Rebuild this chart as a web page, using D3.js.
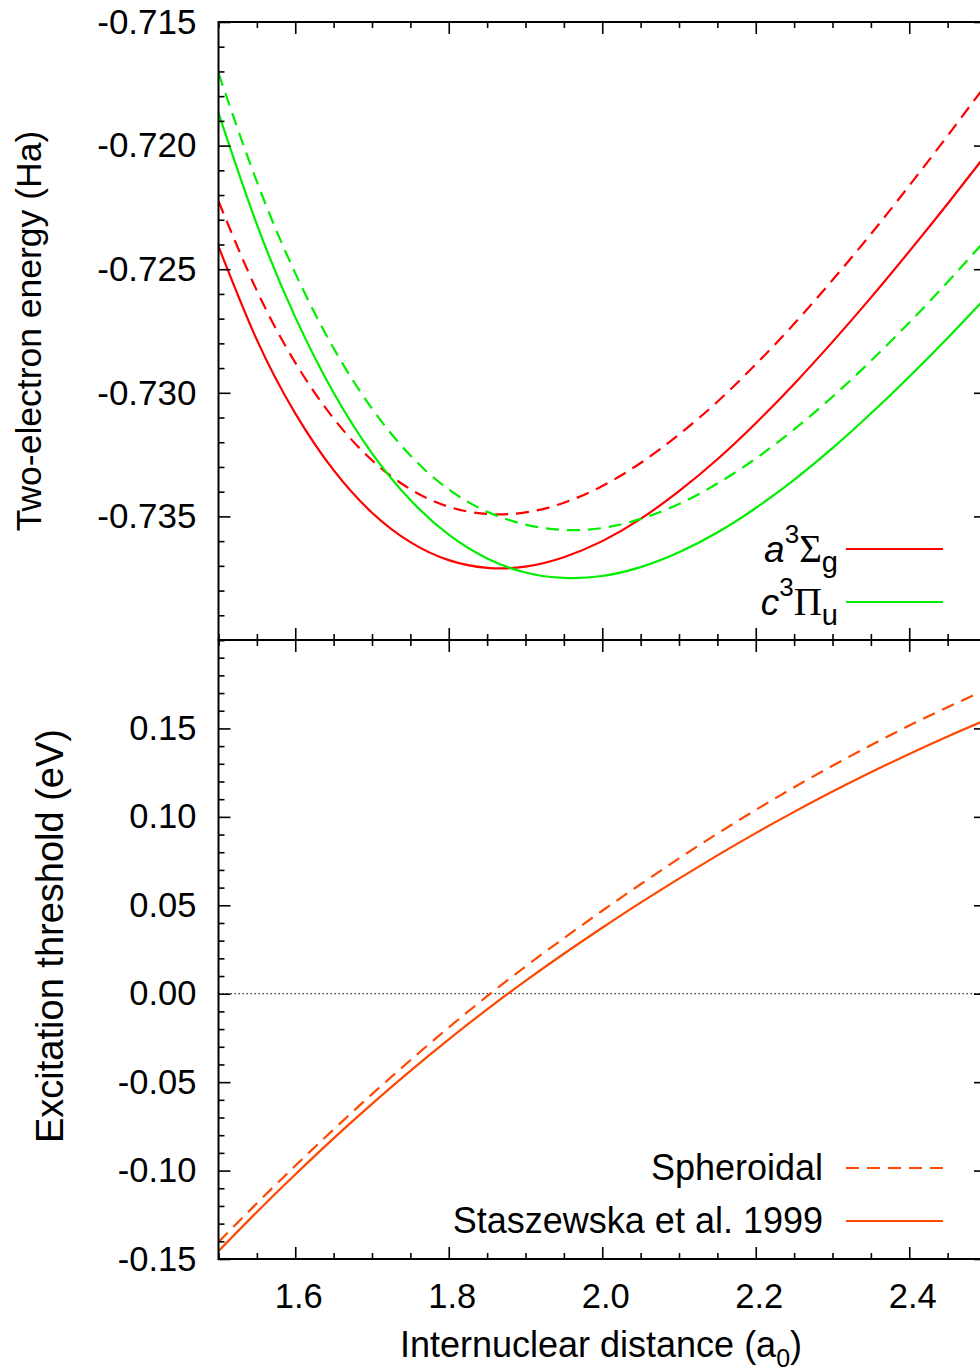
<!DOCTYPE html>
<html><head><meta charset="utf-8">
<script src="https://cdn.jsdelivr.net/npm/d3@7"></script>
<style>
body{margin:0;background:#fff}
svg{display:block}
text{font-family:"Liberation Sans",Arial,Helvetica,sans-serif;fill:#000}
</style>
</head><body>
<svg id="chart" width="980" height="1371"></svg>
<script>
// ---------------- data ----------------
const distance = [1.50,1.55,1.60,1.65,1.70,1.75,1.80,1.85,1.90,1.95,2.00,2.05,2.10,2.15,2.20,2.25,2.30,2.35,2.40,2.45,2.50];
// a3Σg : solid and dashed
const aSigmaSolid  = [-0.72408,-0.72786,-0.73083,-0.73313,-0.73485,-0.73604,-0.73677,-0.73708,-0.73703,-0.73665,-0.73600,-0.73510,-0.73398,-0.73269,-0.73123,-0.72964,-0.72794,-0.72615,-0.72428,-0.72235,-0.72037];
const aSigmaDashed = [-0.72225,-0.72587,-0.72878,-0.73104,-0.73273,-0.73390,-0.73461,-0.73490,-0.73484,-0.73445,-0.73377,-0.73284,-0.73169,-0.73036,-0.72885,-0.72721,-0.72544,-0.72358,-0.72162,-0.71960,-0.71753];
// c3Πu : solid and dashed
const cPiSolid  = [-0.71868,-0.72319,-0.72694,-0.73000,-0.73245,-0.73434,-0.73574,-0.73670,-0.73727,-0.73749,-0.73741,-0.73705,-0.73645,-0.73565,-0.73466,-0.73352,-0.73224,-0.73084,-0.72935,-0.72778,-0.72614];
const cPiDashed = [-0.71707,-0.72146,-0.72516,-0.72820,-0.73064,-0.73254,-0.73391,-0.73481,-0.73533,-0.73555,-0.73547,-0.73510,-0.73450,-0.73367,-0.73266,-0.73148,-0.73016,-0.72871,-0.72716,-0.72552,-0.72380];
// excitation threshold (eV)
const spheroidal = [-0.1404,-0.1185,-0.0973,-0.0767,-0.0568,-0.0376,-0.0191,-0.0014,0.0154,0.0314,0.0469,0.0619,0.0765,0.0905,0.1039,0.1167,0.1289,0.1405,0.1516,0.1620,0.1719];
const staszewska = [-0.1455,-0.1234,-0.1022,-0.0818,-0.0623,-0.0436,-0.0258,-0.0088,0.0073,0.0226,0.0373,0.0515,0.0651,0.0782,0.0908,0.1028,0.1143,0.1252,0.1356,0.1455,0.1548];

const xMajorTicks = [1.6,1.8,2.0,2.2,2.4];
const energyTicks = [-0.715,-0.720,-0.725,-0.730,-0.735];
const thresholdTicks = [0.15,0.10,0.05,0.00,-0.05,-0.10,-0.15];

// --------------- layout ---------------
const svg = d3.select("#chart");
const L = 218.5, R = 986, T1 = 22, B1 = 640, T2 = 640, B2 = 1259;
const red = "#ff0000", green = "#00ee00", orange = "#ff4800";

const x = d3.scaleLinear().domain([1.5, 2.5]).range([L, R]);
const yTop = d3.scaleLinear().domain([-0.740, -0.715]).range([B1, T1]);
const yBot = d3.scaleLinear().domain([-0.15, 0.20]).range([B2, T2]);

const xMinor = d3.range(1.5, 2.5001, 0.05).map(v => +v.toFixed(2)).filter(v => !xMajorTicks.some(t => Math.abs(t - v) < 1e-6));
const eAll = d3.range(-0.740, -0.7149, 0.001).map(v => +v.toFixed(3));
const eMinor = eAll.filter(v => !energyTicks.some(t => Math.abs(t - v) < 1e-7));
const tAll = d3.range(-0.15, 0.2001, 0.01).map(v => +v.toFixed(2));
const tMinor = tAll.filter(v => !thresholdTicks.some(t => Math.abs(t - v) < 1e-7));

function styleAxis(fs){
  return g => {
    g.select(".domain").remove();
    g.selectAll(".tick line").attr("stroke", "#000").attr("stroke-width", 1.6);
    g.selectAll(".tick text").style("font-size", fs + "px").attr("fill", "#000");
  };
}

function panelAxes(yScale, top, bottom, majorY, minorY, yFmt, showX, fs){
  const st = styleAxis(fs);
  svg.append("g").attr("transform", `translate(${L},0)`)
    .call(d3.axisLeft(yScale).tickValues(majorY).tickSize(-12).tickPadding(22).tickFormat(yFmt)).call(st);
  svg.append("g").attr("transform", `translate(${L},0)`)
    .call(d3.axisLeft(yScale).tickValues(minorY).tickSize(-6).tickFormat("")).call(st);
  svg.append("g").attr("transform", `translate(${R},0)`)
    .call(d3.axisRight(yScale).tickValues(majorY).tickSize(-12).tickFormat("")).call(st);
  svg.append("g").attr("transform", `translate(${R},0)`)
    .call(d3.axisRight(yScale).tickValues(minorY).tickSize(-6).tickFormat("")).call(st);
  svg.append("g").attr("transform", `translate(0,${top})`)
    .call(d3.axisTop(x).tickValues(xMajorTicks).tickSize(-12).tickFormat("")).call(st);
  svg.append("g").attr("transform", `translate(0,${top})`)
    .call(d3.axisTop(x).tickValues(xMinor).tickSize(-6).tickFormat("")).call(st);
  const gb = svg.append("g").attr("transform", `translate(0,${bottom})`)
    .call(d3.axisBottom(x).tickValues(xMajorTicks).tickSize(-12).tickPadding(25)
      .tickFormat(showX ? d3.format(".1f") : "")).call(st);
  gb.selectAll(".tick text").attr("dx", 3);
  svg.append("g").attr("transform", `translate(0,${bottom})`)
    .call(d3.axisBottom(x).tickValues(xMinor).tickSize(-6).tickFormat("")).call(st);
  svg.append("rect").attr("x", L).attr("y", top).attr("width", R - L).attr("height", bottom - top)
    .attr("fill", "none").attr("stroke", "#000").attr("stroke-width", 2);
}

const defs = svg.append("defs");
defs.append("clipPath").attr("id", "clipTop").append("rect").attr("x", L).attr("y", T1).attr("width", R - L).attr("height", B1 - T1);
defs.append("clipPath").attr("id", "clipBot").append("rect").attr("x", L).attr("y", T2).attr("width", R - L).attr("height", B2 - T2);

// zero line
svg.append("line").attr("x1", L).attr("x2", R).attr("y1", yBot(0)).attr("y2", yBot(0))
  .attr("stroke", "#000").attr("stroke-width", 1).attr("stroke-dasharray", "1.5,2.5");

function drawCurve(values, yScale, clip, color, dashed){
  const line = d3.line().x((d, i) => x(distance[i])).y(d => yScale(d)).curve(d3.curveNatural);
  svg.append("path").datum(values).attr("clip-path", `url(#${clip})`)
    .attr("d", line).attr("fill", "none").attr("stroke", color).attr("stroke-width", 2.2)
    .attr("stroke-dasharray", dashed ? "13,8" : null);
}

drawCurve(aSigmaSolid, yTop, "clipTop", red, false);
drawCurve(aSigmaDashed, yTop, "clipTop", red, true);
drawCurve(cPiSolid, yTop, "clipTop", green, false);
drawCurve(cPiDashed, yTop, "clipTop", green, true);
drawCurve(spheroidal, yBot, "clipBot", orange, true);
drawCurve(staszewska, yBot, "clipBot", orange, false);

panelAxes(yTop, T1, B1, energyTicks, eMinor, d3.format(".3f"), false, 35);
panelAxes(yBot, T2, B2, thresholdTicks, tMinor, d3.format(".2f"), true, 34.5);

svg.selectAll(".tick text").each(function(){ const t = d3.select(this); t.text(t.text().replace("\u2212", "-")); });

// axis titles
svg.append("text").attr("transform", `translate(41,${(T1 + B1) / 2}) rotate(-90)`)
  .attr("text-anchor", "middle").style("font-size", "35.5px").text("Two-electron energy (Ha)");
svg.append("text").attr("transform", `translate(63,936) rotate(-90)`)
  .attr("text-anchor", "middle").style("font-size", "38px").text("Excitation threshold (eV)");
const xl = svg.append("text").attr("x", 601).attr("y", 1357).attr("text-anchor", "middle").style("font-size", "36px");
xl.append("tspan").text("Internuclear distance (a");
xl.append("tspan").attr("dy", 10).style("font-size", "25px").text("0");
xl.append("tspan").attr("dy", -10).text(")");

// legends (top)
function legendState(yBase, letter, sym, sub, color){
  const t = svg.append("text").attr("x", 838).attr("y", yBase).attr("text-anchor", "end").style("font-size", "37px");
  t.append("tspan").style("font-style", "italic").text(letter);
  t.append("tspan").attr("dy", -19).style("font-size", "26px").text("3");
  t.append("tspan").attr("dy", 19).style("font-family", "'Liberation Serif','Times New Roman',serif").style("font-size", "39px").text(sym);
  t.append("tspan").attr("dy", 10).style("font-size", "29px").text(sub);
  svg.append("line").attr("x1", 846).attr("x2", 943).attr("y1", yBase - 13).attr("y2", yBase - 13)
    .attr("stroke", color).attr("stroke-width", 2.2);
}
legendState(562, "a", "\u03A3", "g", red);
legendState(615, "c", "\u03A0", "u", green);

// legends (bottom)
const legBot = [
  {label: "Spheroidal", y: 1180, dashed: true},
  {label: "Staszewska et al. 1999", y: 1233, dashed: false}
];
legBot.forEach(d => {
  svg.append("text").attr("x", 823).attr("y", d.y).attr("text-anchor", "end").style("font-size", "36px").text(d.label);
  svg.append("line").attr("x1", 846).attr("x2", 943).attr("y1", d.y - 12).attr("y2", d.y - 12)
    .attr("stroke", orange).attr("stroke-width", 2.2).attr("stroke-dasharray", d.dashed ? "13,8" : null);
});
</script>
</body></html>
